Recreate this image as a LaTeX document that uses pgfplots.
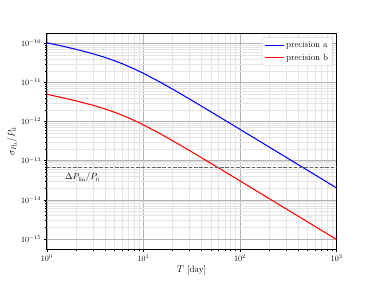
\documentclass[border=0pt]{standalone}
\usepackage{pgfplots}
\pgfplotsset{compat=1.18}
\begin{document}
\begin{tikzpicture}
\begin{axis}[
  at={(0,0)}, anchor=south west,
  scale only axis,
  width=4.96in, height=3.696in,
  xmode=log, ymode=log,
  xmin=1, xmax=1000,
  ymin=5.3e-16, ymax=1.78e-10,
  xtick={1,10,100,1000},
  ytick={1e-15,1e-14,1e-13,1e-12,1e-11,1e-10},
  grid=both,
  major grid style={color=black!30, line width=0.6pt},
  minor grid style={color=black!10, line width=0.5pt},
  axis line style={black, line width=0.8pt},
  tick align=outside,
  xtick pos=bottom, ytick pos=left,
  major tick length=3.5pt, minor tick length=2pt,
  tick style={black, line width=0.6pt},
  xlabel={$T$ [day]},
  ylabel={$\sigma_{P_0}/P_0$},
  label style={font=\fontsize{11.5}{13}\selectfont},
  xlabel style={yshift=2pt},
  ylabel style={yshift=-2pt},
  legend style={at={(0.985,0.982)}, anchor=north east, draw=black!25, rounded corners=2pt, fill=white, inner sep=3pt, row sep=2pt, font=\fontsize{11.2}{13}\selectfont},
  legend cell align=left,
  legend image code/.code={\draw[#1, line width=2pt] (0cm,0cm) -- (0.8cm,0cm);},
]
\addplot[blue, line width=1.3pt] coordinates {
(1,1.045e-10) (1.5,8.39e-11) (2,7.106e-11) (3,5.47e-11) (4,4.406e-11) (5,3.639e-11) (6,3.058e-11) (8,2.247e-11) (10,1.724e-11) (15,1.016e-11) (20,6.808e-12) (30,3.793e-12) (50,1.785e-12) (70,1.081e-12) (100,6.344e-13) (150,3.457e-13) (200,2.246e-13) (300,1.223e-13) (500,5.685e-14) (700,3.431e-14) (1000,2.009e-14)
};
\addlegendentry{precision a}
\addplot[red, line width=1.3pt] coordinates {
(1,5.016e-12) (1.5,4.027e-12) (2,3.411e-12) (3,2.626e-12) (4,2.115e-12) (5,1.747e-12) (6,1.468e-12) (8,1.079e-12) (10,8.275e-13) (15,4.877e-13) (20,3.268e-13) (30,1.821e-13) (50,8.568e-14) (70,5.189e-14) (100,3.045e-14) (150,1.659e-14) (200,1.078e-14) (300,5.870e-15) (500,2.729e-15) (700,1.647e-15) (1000,9.643e-16)
};
\addlegendentry{precision b}
\addplot[draw=black!60, line width=1.3pt, dash pattern=on 4.5pt off 2pt, forget plot] coordinates {(1,6.6e-14) (1000,6.6e-14)};
\node[anchor=west, font=\fontsize{10.5}{12}\selectfont] at (axis cs:1.45,3.7e-14) {$\Delta P_{\mathrm{lin}}/P_0$};
\end{axis}
\path (-0.8in,-0.528in) rectangle (5.6in,4.272in);
\end{tikzpicture}
\end{document}
